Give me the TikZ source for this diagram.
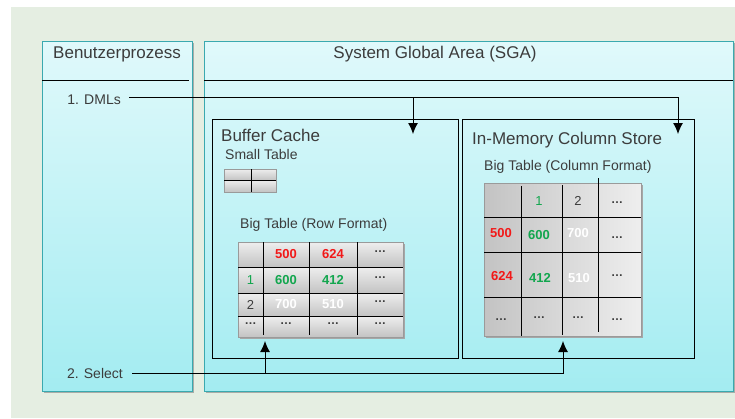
\documentclass[tikz,border=0pt]{standalone}
\usepackage{fontspec}
\setmainfont{Liberation Sans}
\usepackage{xcolor}
\usepackage{tikz}
\usetikzlibrary{arrows.meta,positioning,shadows,calc}
\definecolor{ink}{HTML}{3C3C3C}
\definecolor{paper}{HTML}{E5EEE2}
\definecolor{sgaTop}{HTML}{E0F9FB}
\definecolor{sgaBottom}{HTML}{A3ECF1}
\definecolor{sgaLine}{HTML}{3AA9AF}
\definecolor{cellLight}{HTML}{EEEEEE}
\definecolor{cellDark}{HTML}{C3C3C3}
\definecolor{cellEdge}{HTML}{9A9A9A}
\definecolor{valRed}{HTML}{F21818}
\definecolor{valGreen}{HTML}{12A64E}

\begin{document}
\begin{tikzpicture}[x=1pt,y=-1pt,
  area/.style={draw=sgaLine, line width=1pt, top color=sgaTop, bottom color=sgaBottom, anchor=north west, inner sep=0pt,
    drop shadow={shadow xshift=1pt, shadow yshift=-1.5pt, fill=black!50, opacity=.6}},
  pool/.style={draw=black, line width=1pt, anchor=north west, inner sep=0pt},
  title/.style={text=ink, font=\fontsize{17}{20}\selectfont, inner sep=0pt},
  caption/.style={text=ink, font=\fontsize{14}{17}\selectfont, anchor=base west, inner sep=0pt},
  hot/.style={text=valRed, font=\fontsize{13}{15}\selectfont\bfseries, inner sep=0pt},
  fresh/.style={text=valGreen, font=\fontsize{13}{15}\selectfont\bfseries, inner sep=0pt},
  pale/.style={text=white, font=\fontsize{13}{15}\selectfont\bfseries, inner sep=0pt},
  idxGreen/.style={text=valGreen, font=\fontsize{13}{15}\selectfont, inner sep=0pt},
  idxInk/.style={text=ink, font=\fontsize{13}{15}\selectfont, inner sep=0pt},
  more/.style={text=ink, font=\fontsize{12}{14}\selectfont\bfseries, inner sep=0pt},
  conn/.style={-{Latex[length=11pt,width=10pt]}, line width=1pt, draw=black},
]
  \useasboundingbox (0,0) rectangle (735,418);
  \fill[paper] (11,7) rectangle (735,418);

  % user process and SGA
  \node[area, minimum width=150pt, minimum height=350pt] (user) at (42,41) {};
  \node[area, minimum width=529pt, minimum height=350pt] (sga) at (204,41) {};
  \draw[line width=1pt] (42,80) -- (189,80);
  \draw[line width=1pt] (204,80) -- (733,80);
  \node[title, anchor=base] (userTitle) at (117,58) {Benutzerprozess};
  \node[title, anchor=base] (sgaTitle) at (435,58) {System Global Area (SGA)};

  % buffer cache
  \node[pool, minimum width=246pt, minimum height=239pt] (bc) at (212,119) {};
  \node[title, anchor=base west] (bcTitle) at (221,141) {Buffer Cache};
  \node[caption] (smallCap) at (225,159) {Small Table};
  \shade[top color=cellLight, bottom color=cellDark] (224,169) rectangle (276,180);
  \shade[top color=cellLight, bottom color=cellDark] (224,180) rectangle (276,192);
  \draw[cellEdge, line width=.8pt] (224,169) rectangle (276,192);
  \draw[line width=1pt] (224,180) -- (276,180);
  \draw[line width=1pt] (251,169) -- (251,192);

  \node[caption] (rowCap) at (240,228) {Big Table (Row Format)};
  \fill[black!35] (239.5,243.5) rectangle (404.5,339);
  \foreach \ya/\yb in {242/267,267/293,293/316,316/337}
    \shade[top color=cellLight, bottom color=cellDark] (238,\ya) rectangle (403,\yb);
  \draw[cellEdge, line width=.8pt] (238,242) rectangle (403,337);
  \foreach \x in {263,309,357}
    \draw[line width=1pt] (\x,242) -- (\x,335);
  \foreach \y in {267,293,316}
    \draw[line width=1pt] (238,\y) -- (403,\y);
  \foreach \cx/\cy/\txt/\kind [count=\n] in {
      286/254.5/500/hot, 333/254.5/624/hot, 380/252/\ldots/more,
      250.5/280/1/idxGreen, 286/280/600/fresh, 333/280/412/fresh, 380/278/\ldots/more,
      250.5/304.5/2/idxInk, 286/304.5/700/pale, 333/304.5/510/pale, 380/302/\ldots/more,
      250.5/324/\ldots/more, 286/324/\ldots/more, 333/324/\ldots/more, 380/324/\ldots/more}
    \node[\kind] (row\n) at (\cx,\cy) {\txt};

  % column store
  \node[pool, minimum width=232pt, minimum height=239pt] (im) at (462,119) {};
  \node[title, anchor=base west] (imTitle) at (472,144) {In-Memory Column Store};
  \node[caption] (colCap) at (484,170) {Big Table (Column Format)};
  \fill[black!35] (485.5,184.5) rectangle (642.5,338);
  \shade[left color=cellDark, right color=cellLight] (484,183) rectangle (641,336);
  \draw[cellEdge, line width=.8pt] (484,183) rectangle (641,336);
  \draw[line width=1pt] (521,186) -- (521,336);
  \draw[line width=1pt] (562,185) -- (562,335);
  \draw[line width=1pt] (598,178) -- (598,332);
  \foreach \y in {217,252,297}
    \draw[line width=1pt] (484,\y) -- (641,\y);
  \foreach \cx/\cy/\txt/\kind [count=\n] in {
      539/201/1/idxGreen, 578/201/2/idxInk, 617/203/\ldots/more,
      501/233/500/hot, 539/235/600/fresh, 578/233/700/pale, 617/238/\ldots/more,
      502/276/624/hot, 540/278/412/fresh, 579/278/510/pale, 617/276/\ldots/more,
      501/320/\ldots/more, 539/318/\ldots/more, 578/318/\ldots/more, 617/320/\ldots/more}
    \node[\kind] (col\n) at (\cx,\cy) {\txt};

  % statements
  \node[text=ink, font=\fontsize{14}{17}\selectfont, anchor=base east, inner sep=0pt] (dml) at (121,104) {1. DMLs};
  \node[text=ink, font=\fontsize{14}{17}\selectfont, anchor=base east, inner sep=0pt] (sel) at (123,378) {2. Select};
  \coordinate (dmlOut) at ([xshift=8pt,yshift=2pt]dml.east);
  \coordinate (selOut) at ([xshift=9pt]sel.east);
  \coordinate (bcIn) at (413,134);
  \coordinate (imIn) at (678,134);
  \coordinate (bcUp) at (265,341);
  \coordinate (imUp) at (563,341);
  \draw[conn] (dmlOut) -| (imIn);
  \draw[conn] (dmlOut -| bcIn) -- (bcIn);
  \draw[conn] (selOut) -| (imUp);
  \draw[conn] (selOut -| bcUp) -- (bcUp);
\end{tikzpicture}
\end{document}
